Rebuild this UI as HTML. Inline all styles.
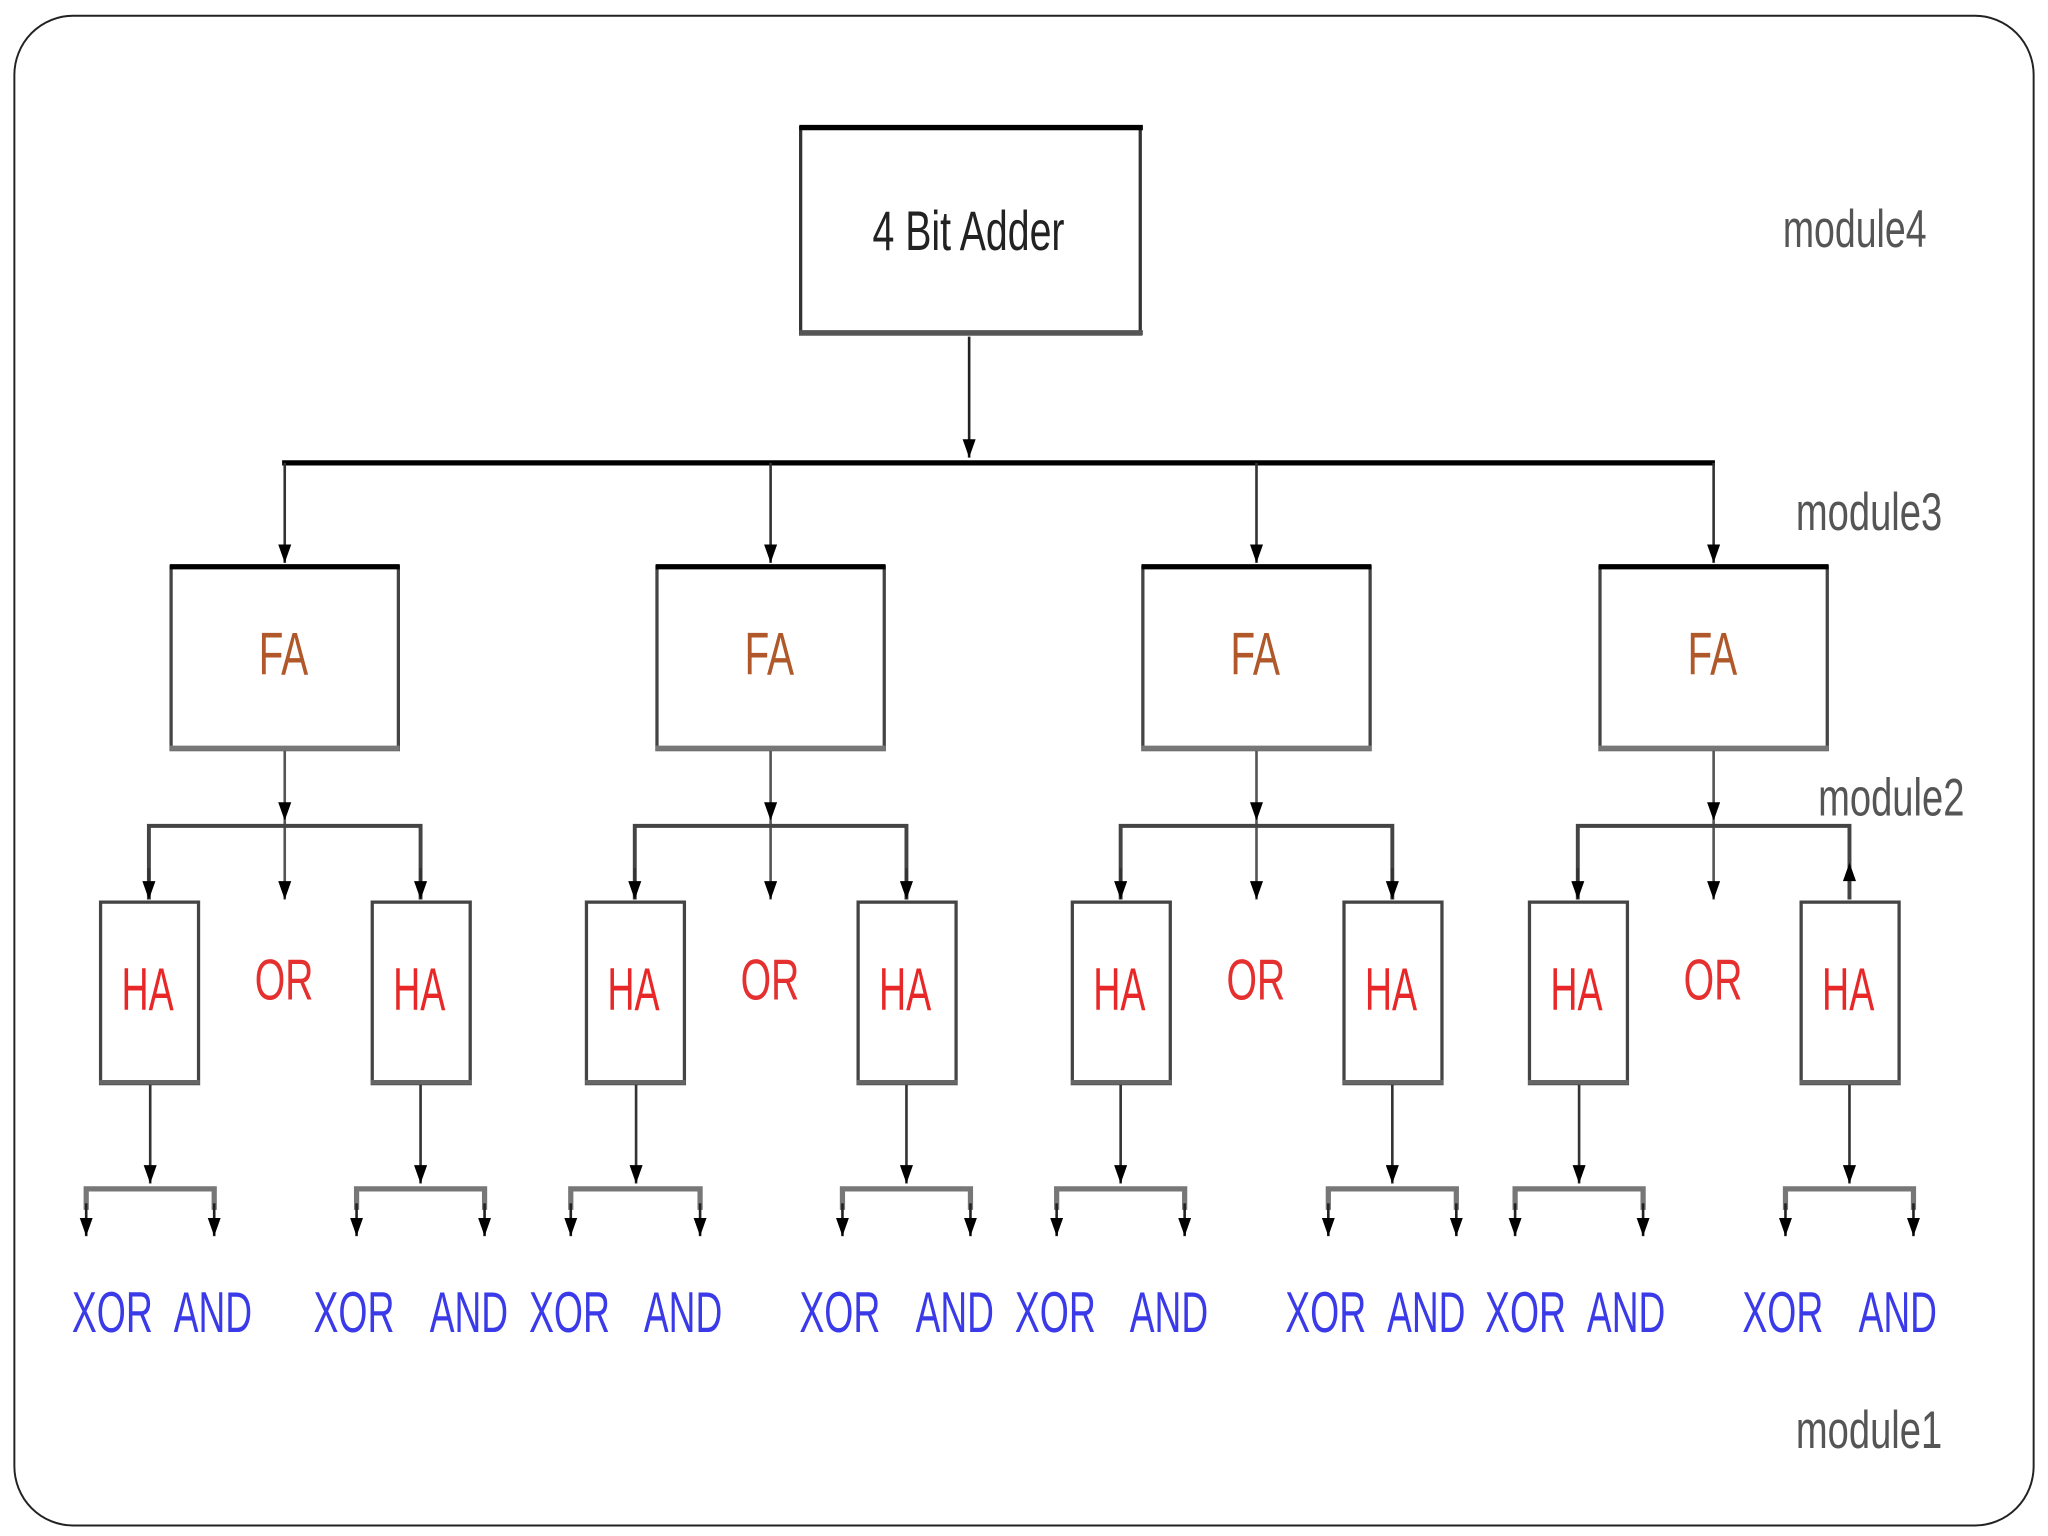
<!DOCTYPE html>
<html><head><meta charset="utf-8"><style>
html,body{margin:0;padding:0;background:#fff;}
svg{display:block;}
text{font-family:"Liberation Sans",sans-serif;}
</style></head><body>
<svg width="2048" height="1536" viewBox="0 0 1568 1168" preserveAspectRatio="none" xmlns="http://www.w3.org/2000/svg">
<defs>
<marker id="a" viewBox="0 0 14 10" refX="14" refY="5" markerWidth="14" markerHeight="10" markerUnits="userSpaceOnUse" orient="auto"><path d="M0,0 L14,5 L0,10 Z" fill="#000"/></marker>
</defs>
<rect x="11" y="12" width="1546" height="1148" rx="45" fill="#fff" stroke="#222" stroke-width="1.5"/>
<rect x="613" y="97" width="260" height="157" fill="#fff" stroke="#333" stroke-width="2.5"/>
<line x1="612" y1="97" x2="875" y2="97" stroke="#000" stroke-width="4"/>
<line x1="612" y1="253" x2="875" y2="253" stroke="#555" stroke-width="4"/>
<text x="668" y="190" font-size="42" fill="#222" textLength="147" lengthAdjust="spacingAndGlyphs">4 Bit Adder</text>
<line x1="742" y1="256" x2="742" y2="348" stroke="#222" stroke-width="2" marker-end="url(#a)"/>
<line x1="216" y1="352" x2="1313" y2="352" stroke="#000" stroke-width="4"/>
<text x="1365" y="188" font-size="40" fill="#555" textLength="110" lengthAdjust="spacingAndGlyphs">module4</text>
<text x="1375" y="403" font-size="40" fill="#555" textLength="112" lengthAdjust="spacingAndGlyphs">module3</text>
<text x="1392" y="620" font-size="40" fill="#555" textLength="112" lengthAdjust="spacingAndGlyphs">module2</text>
<text x="1375" y="1101" font-size="40" fill="#555" textLength="112" lengthAdjust="spacingAndGlyphs">module1</text>
<g>
<line x1="218" y1="352" x2="218" y2="428" stroke="#333" stroke-width="2" marker-end="url(#a)"/>
<rect x="131" y="431" width="174" height="139" fill="#fff" stroke="#444" stroke-width="2.5"/>
<line x1="130" y1="431" x2="306" y2="431" stroke="#000" stroke-width="4"/>
<line x1="130" y1="569" x2="306" y2="569" stroke="#777" stroke-width="4"/>
<text x="198" y="513" font-size="46" fill="#b0582a" textLength="38" lengthAdjust="spacingAndGlyphs">FA</text>
<line x1="218" y1="571" x2="218" y2="624" stroke="#555" stroke-width="2" marker-end="url(#a)"/>
<line x1="218" y1="624" x2="218" y2="684" stroke="#555" stroke-width="2" marker-end="url(#a)"/>
<polyline points="114,684 114,628 322,628 322,684" fill="none" stroke="#444" stroke-width="3"/>
<line x1="114" y1="660" x2="114" y2="684" stroke="#333" stroke-width="2" marker-end="url(#a)"/>
<line x1="322" y1="660" x2="322" y2="684" stroke="#333" stroke-width="2" marker-end="url(#a)"/>
<text x="195" y="760" font-size="44" fill="#e53030" textLength="45" lengthAdjust="spacingAndGlyphs">OR</text>
</g>
<g>
<line x1="590" y1="352" x2="590" y2="428" stroke="#333" stroke-width="2" marker-end="url(#a)"/>
<rect x="503" y="431" width="174" height="139" fill="#fff" stroke="#444" stroke-width="2.5"/>
<line x1="502" y1="431" x2="678" y2="431" stroke="#000" stroke-width="4"/>
<line x1="502" y1="569" x2="678" y2="569" stroke="#777" stroke-width="4"/>
<text x="570" y="513" font-size="46" fill="#b0582a" textLength="38" lengthAdjust="spacingAndGlyphs">FA</text>
<line x1="590" y1="571" x2="590" y2="624" stroke="#555" stroke-width="2" marker-end="url(#a)"/>
<line x1="590" y1="624" x2="590" y2="684" stroke="#555" stroke-width="2" marker-end="url(#a)"/>
<polyline points="486,684 486,628 694,628 694,684" fill="none" stroke="#444" stroke-width="3"/>
<line x1="486" y1="660" x2="486" y2="684" stroke="#333" stroke-width="2" marker-end="url(#a)"/>
<line x1="694" y1="660" x2="694" y2="684" stroke="#333" stroke-width="2" marker-end="url(#a)"/>
<text x="567" y="760" font-size="44" fill="#e53030" textLength="45" lengthAdjust="spacingAndGlyphs">OR</text>
</g>
<g>
<line x1="962" y1="352" x2="962" y2="428" stroke="#333" stroke-width="2" marker-end="url(#a)"/>
<rect x="875" y="431" width="174" height="139" fill="#fff" stroke="#444" stroke-width="2.5"/>
<line x1="874" y1="431" x2="1050" y2="431" stroke="#000" stroke-width="4"/>
<line x1="874" y1="569" x2="1050" y2="569" stroke="#777" stroke-width="4"/>
<text x="942" y="513" font-size="46" fill="#b0582a" textLength="38" lengthAdjust="spacingAndGlyphs">FA</text>
<line x1="962" y1="571" x2="962" y2="624" stroke="#555" stroke-width="2" marker-end="url(#a)"/>
<line x1="962" y1="624" x2="962" y2="684" stroke="#555" stroke-width="2" marker-end="url(#a)"/>
<polyline points="858,684 858,628 1066,628 1066,684" fill="none" stroke="#444" stroke-width="3"/>
<line x1="858" y1="660" x2="858" y2="684" stroke="#333" stroke-width="2" marker-end="url(#a)"/>
<line x1="1066" y1="660" x2="1066" y2="684" stroke="#333" stroke-width="2" marker-end="url(#a)"/>
<text x="939" y="760" font-size="44" fill="#e53030" textLength="45" lengthAdjust="spacingAndGlyphs">OR</text>
</g>
<g>
<line x1="1312" y1="352" x2="1312" y2="428" stroke="#333" stroke-width="2" marker-end="url(#a)"/>
<rect x="1225" y="431" width="174" height="139" fill="#fff" stroke="#444" stroke-width="2.5"/>
<line x1="1224" y1="431" x2="1400" y2="431" stroke="#000" stroke-width="4"/>
<line x1="1224" y1="569" x2="1400" y2="569" stroke="#777" stroke-width="4"/>
<text x="1292" y="513" font-size="46" fill="#b0582a" textLength="38" lengthAdjust="spacingAndGlyphs">FA</text>
<line x1="1312" y1="571" x2="1312" y2="624" stroke="#555" stroke-width="2" marker-end="url(#a)"/>
<line x1="1312" y1="624" x2="1312" y2="684" stroke="#555" stroke-width="2" marker-end="url(#a)"/>
<polyline points="1208,684 1208,628 1416,628 1416,684" fill="none" stroke="#444" stroke-width="3"/>
<line x1="1208" y1="660" x2="1208" y2="684" stroke="#333" stroke-width="2" marker-end="url(#a)"/>
<path d="M1411,670 L1421,670 L1416,656 Z" fill="#000"/>
<text x="1289" y="760" font-size="44" fill="#e53030" textLength="45" lengthAdjust="spacingAndGlyphs">OR</text>
</g>
<g fill="#fff" stroke="#444" stroke-width="2.5">
<rect x="77" y="686" width="75" height="138"/><rect x="285" y="686" width="75" height="138"/>
<rect x="449" y="686" width="75" height="138"/><rect x="657" y="686" width="75" height="138"/>
<rect x="821" y="686" width="75" height="138"/><rect x="1029" y="686" width="75" height="138"/>
<rect x="1171" y="686" width="75" height="138"/><rect x="1379" y="686" width="75" height="138"/>
</g>
<g stroke="#666" stroke-width="3.5">
<line x1="76" y1="823" x2="153" y2="823"/><line x1="284" y1="823" x2="361" y2="823"/>
<line x1="448" y1="823" x2="525" y2="823"/><line x1="656" y1="823" x2="733" y2="823"/>
<line x1="820" y1="823" x2="897" y2="823"/><line x1="1028" y1="823" x2="1105" y2="823"/>
<line x1="1170" y1="823" x2="1247" y2="823"/><line x1="1378" y1="823" x2="1455" y2="823"/>
</g>
<g font-size="46" fill="#e82828">
<text x="93" y="768" textLength="40" lengthAdjust="spacingAndGlyphs">HA</text>
<text x="301" y="768" textLength="40" lengthAdjust="spacingAndGlyphs">HA</text>
<text x="465" y="768" textLength="40" lengthAdjust="spacingAndGlyphs">HA</text>
<text x="673" y="768" textLength="40" lengthAdjust="spacingAndGlyphs">HA</text>
<text x="837" y="768" textLength="40" lengthAdjust="spacingAndGlyphs">HA</text>
<text x="1045" y="768" textLength="40" lengthAdjust="spacingAndGlyphs">HA</text>
<text x="1187" y="768" textLength="40" lengthAdjust="spacingAndGlyphs">HA</text>
<text x="1395" y="768" textLength="40" lengthAdjust="spacingAndGlyphs">HA</text>
</g>
<g stroke="#333" stroke-width="2">
<line x1="115" y1="825" x2="115" y2="900" marker-end="url(#a)"/>
<line x1="322" y1="825" x2="322" y2="900" marker-end="url(#a)"/>
<line x1="487" y1="825" x2="487" y2="900" marker-end="url(#a)"/>
<line x1="694" y1="825" x2="694" y2="900" marker-end="url(#a)"/>
<line x1="858" y1="825" x2="858" y2="900" marker-end="url(#a)"/>
<line x1="1066" y1="825" x2="1066" y2="900" marker-end="url(#a)"/>
<line x1="1209" y1="825" x2="1209" y2="900" marker-end="url(#a)"/>
<line x1="1416" y1="825" x2="1416" y2="900" marker-end="url(#a)"/>
</g>
<g fill="none" stroke="#777" stroke-width="4">
<polyline points="66,920 66,904 164,904 164,920"/>
<polyline points="273,920 273,904 371,904 371,920"/>
<polyline points="437,920 437,904 536,904 536,920"/>
<polyline points="645,920 645,904 743,904 743,920"/>
<polyline points="809,920 809,904 907,904 907,920"/>
<polyline points="1017,920 1017,904 1115,904 1115,920"/>
<polyline points="1160,920 1160,904 1258,904 1258,920"/>
<polyline points="1367,920 1367,904 1465,904 1465,920"/>
</g>
<g stroke="#222" stroke-width="2">
<line x1="66" y1="915" x2="66" y2="940" marker-end="url(#a)"/><line x1="164" y1="915" x2="164" y2="940" marker-end="url(#a)"/>
<line x1="273" y1="915" x2="273" y2="940" marker-end="url(#a)"/><line x1="371" y1="915" x2="371" y2="940" marker-end="url(#a)"/>
<line x1="437" y1="915" x2="437" y2="940" marker-end="url(#a)"/><line x1="536" y1="915" x2="536" y2="940" marker-end="url(#a)"/>
<line x1="645" y1="915" x2="645" y2="940" marker-end="url(#a)"/><line x1="743" y1="915" x2="743" y2="940" marker-end="url(#a)"/>
<line x1="809" y1="915" x2="809" y2="940" marker-end="url(#a)"/><line x1="907" y1="915" x2="907" y2="940" marker-end="url(#a)"/>
<line x1="1017" y1="915" x2="1017" y2="940" marker-end="url(#a)"/><line x1="1115" y1="915" x2="1115" y2="940" marker-end="url(#a)"/>
<line x1="1160" y1="915" x2="1160" y2="940" marker-end="url(#a)"/><line x1="1258" y1="915" x2="1258" y2="940" marker-end="url(#a)"/>
<line x1="1367" y1="915" x2="1367" y2="940" marker-end="url(#a)"/><line x1="1465" y1="915" x2="1465" y2="940" marker-end="url(#a)"/>
</g>
<g font-size="44" fill="#3a3ae8">
<text x="55" y="1013" textLength="62" lengthAdjust="spacingAndGlyphs">XOR</text>
<text x="133" y="1013" textLength="60" lengthAdjust="spacingAndGlyphs">AND</text>
<text x="240" y="1013" textLength="62" lengthAdjust="spacingAndGlyphs">XOR</text>
<text x="329" y="1013" textLength="60" lengthAdjust="spacingAndGlyphs">AND</text>
<text x="405" y="1013" textLength="62" lengthAdjust="spacingAndGlyphs">XOR</text>
<text x="493" y="1013" textLength="60" lengthAdjust="spacingAndGlyphs">AND</text>
<text x="612" y="1013" textLength="62" lengthAdjust="spacingAndGlyphs">XOR</text>
<text x="701" y="1013" textLength="60" lengthAdjust="spacingAndGlyphs">AND</text>
<text x="777" y="1013" textLength="62" lengthAdjust="spacingAndGlyphs">XOR</text>
<text x="865" y="1013" textLength="60" lengthAdjust="spacingAndGlyphs">AND</text>
<text x="984" y="1013" textLength="62" lengthAdjust="spacingAndGlyphs">XOR</text>
<text x="1062" y="1013" textLength="60" lengthAdjust="spacingAndGlyphs">AND</text>
<text x="1137" y="1013" textLength="62" lengthAdjust="spacingAndGlyphs">XOR</text>
<text x="1215" y="1013" textLength="60" lengthAdjust="spacingAndGlyphs">AND</text>
<text x="1334" y="1013" textLength="62" lengthAdjust="spacingAndGlyphs">XOR</text>
<text x="1423" y="1013" textLength="60" lengthAdjust="spacingAndGlyphs">AND</text>
</g>
</svg>
</body></html>
